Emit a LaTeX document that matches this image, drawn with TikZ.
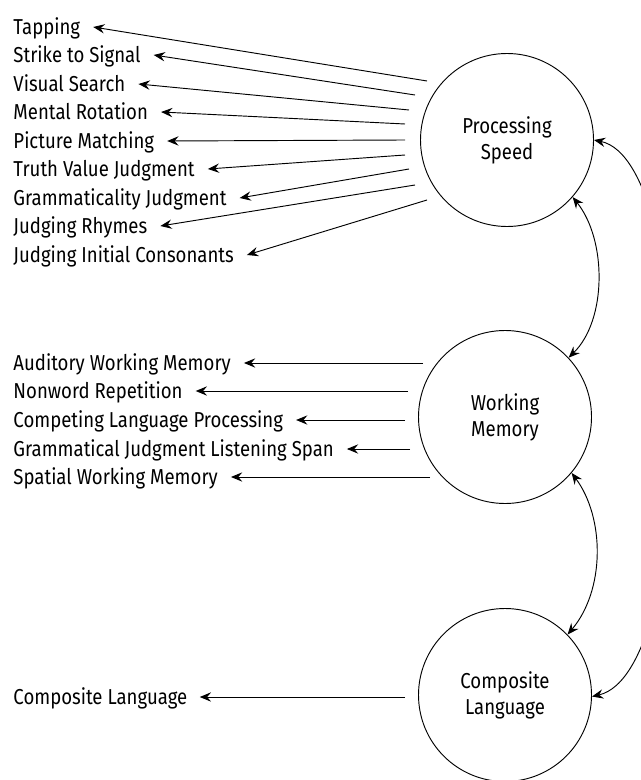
\documentclass[tikz,border=0pt]{standalone}
\usepackage{fontspec}
\setmainfont[FakeStretch=0.86]{Fira Sans}
\usetikzlibrary{arrows.meta}
\begin{document}
\begin{tikzpicture}[x=0.75pt,y=-0.75pt,line width=0.7pt,
  lab/.style={anchor=west,inner sep=0pt,text height=11pt,text depth=0pt,font=\fontsize{16.2}{19}\selectfont},
  latent/.style={draw,circle,minimum size=129.75pt,inner sep=0pt,align=center,font=\fontsize{16.2}{19.5}\selectfont},
  tip/.tip={Stealth[length=8.5pt,width=7pt,inset=3pt]},
  arr/.style={-tip},
  darr/.style={tip-tip}]
\useasboundingbox (0,0) rectangle (640,780);
% latent variables
\node[latent] (ps) at (507,140) {Processing\\Speed};
\node[latent] (wm) at (505,417) {Working\\Memory};
\node[latent] (cl) at (505,695) {Composite\\Language};
% processing speed indicators
\node[lab] (t1) at (13,27)  {Tapping};
\node[lab] (t2) at (13,55)  {Strike to Signal};
\node[lab] (t3) at (13,84)  {Visual Search};
\node[lab] (t4) at (13,112) {Mental Rotation};
\node[lab] (t5) at (13,141) {Picture Matching};
\node[lab] (t6) at (13,169) {Truth Value Judgment};
\node[lab] (t7) at (13,198) {Grammaticality Judgment};
\node[lab] (t8) at (13,226) {Judging Rhymes};
\node[lab] (t9) at (13,255) {Judging Initial Consonants};
\coordinate (s1) at (427,81);
\coordinate (s2) at (415,95);
\coordinate (s3) at (409,110);
\coordinate (s4) at (405,124);
\coordinate (s5) at (405,140);
\coordinate (s6) at (405,155);
\coordinate (s7) at (409,169);
\coordinate (s8) at (415,185);
\coordinate (s9) at (427,200);
\foreach \i in {1,...,9}{\draw[arr] (s\i) -- ([xshift=9.5pt]t\i.east);}
% working memory indicators
\node[lab] (w1) at (13,363) {Auditory Working Memory};
\node[lab] (w2) at (13,391) {Nonword Repetition};
\node[lab] (w3) at (13,420) {Competing Language Processing};
\node[lab] (w4) at (13,449) {Grammatical Judgment Listening Span};
\node[lab] (w5) at (13,477) {Spatial Working Memory};
\coordinate (u1) at (423,363);
\coordinate (u2) at (408,391);
\coordinate (u3) at (405,420);
\coordinate (u4) at (410,449);
\coordinate (u5) at (430,477);
\foreach \i in {1,...,5}{\draw[arr] (u\i) -- ([xshift=9.5pt]w\i.east);}
% composite language indicator
\node[lab] (c1) at (13,697) {Composite Language};
\coordinate (v1) at (405,697);
\draw[arr] (v1) -- ([xshift=9pt]c1.east);
% correlations
\draw[darr] (ps.-41) .. controls (607,240) and (607,320) .. (wm.43);
\draw[darr] (wm.-40) .. controls (605,518) and (605,590) .. (cl.44);
\draw[darr] (ps.0) .. controls (700,162) and (700,672) .. (cl.-1);
\end{tikzpicture}
\end{document}
